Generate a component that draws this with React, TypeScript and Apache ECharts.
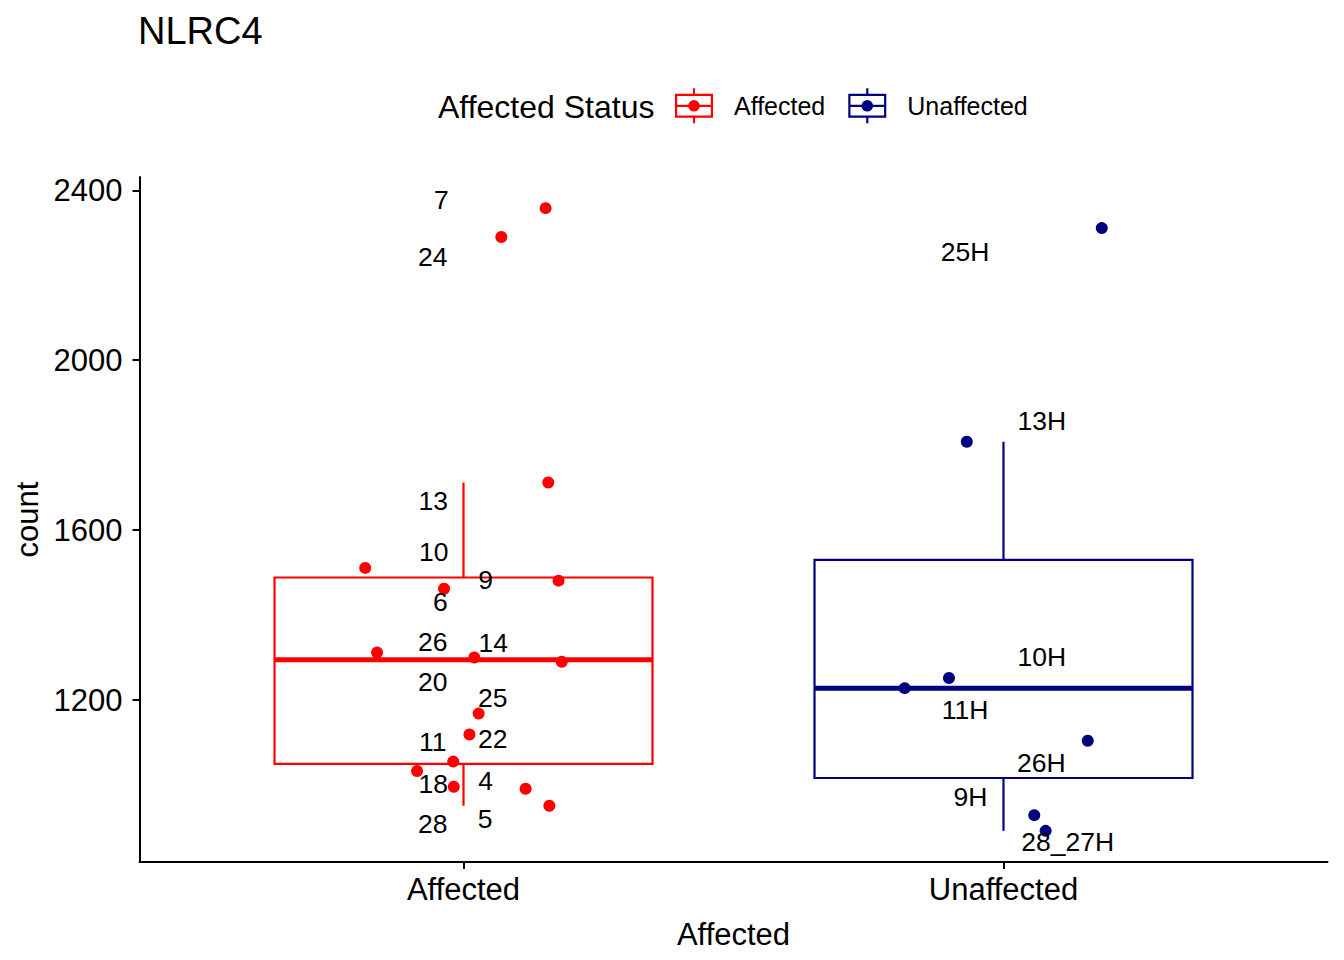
import React, { useEffect, useRef } from "react";
import * as echarts from "echarts";

const TITLE = "NLRC4";
const LEGEND_TITLE = "Affected Status";
const X_NAME = "Affected";
const Y_NAME = "count";
const GROUPS = ["Affected", "Unaffected"];
const COLORS = ["#FF0000", "#000080"];
const Y_TICKS = [1200, 1600, 2000, 2400];

const affectedIds = ["7", "24", "13", "10", "9", "6", "26", "14", "20", "25", "22", "11", "18", "4", "28", "5"];
const affectedCounts = [2358, 2290, 1712, 1511, 1481, 1462, 1312, 1300, 1290, 1168, 1119, 1055, 1033, 996, 991, 951];
const affectedJitter = [0.152, 0.07, 0.157, -0.182, 0.176, -0.036, -0.16, 0.02, 0.182, 0.028, 0.011, -0.019, -0.086, -0.018, 0.115, 0.159];
const affectedLabelDx = [-0.041, -0.057, -0.056, -0.055, 0.041, -0.043, -0.057, 0.055, -0.057, 0.054, 0.054, -0.057, -0.056, 0.041, -0.057, 0.04];
const affectedLabelY = [2377, 2243, 1668, 1549, 1482, 1431, 1336, 1334, 1242, 1204, 1108, 1102, 1003, 1009, 908, 920];

const unaffectedIds = ["25H", "13H", "10H", "11H", "26H", "9H", "28_27H"];
const unaffectedCounts = [2311, 1808, 1252, 1228, 1104, 929, 892];
const unaffectedJitter = [0.182, -0.068, -0.101, -0.183, 0.156, 0.057, 0.078];
const unaffectedLabelDx = [-0.071, 0.071, 0.071, -0.071, 0.07, -0.061, 0.119];
const unaffectedLabelY = [2255, 1856, 1302, 1176, 1051, 971, 865];

const FONT = "'Liberation Sans', Arial, Helvetica, sans-serif";

const LEGEND_ICON =
  "path://M0,5.5H38V7.7H0Z M0,27.3H38V29.5H0Z M0,5.5H2.2V29.5H0Z M35.8,5.5H38V29.5H35.8Z M0,16.4H38V18.6H0Z M17.9,0H20.1V5.5H17.9Z M17.9,29.5H20.1V35H17.9Z M13.2,17.5A5.8,5.8,0,1,1,24.8,17.5A5.8,5.8,0,1,1,13.2,17.5Z";

function quantile7(sorted: number[], p: number): number {
  const h = (sorted.length - 1) * p;
  const lo = Math.floor(h);
  const hi = Math.ceil(h);
  return sorted[lo] + (h - lo) * (sorted[hi] - sorted[lo]);
}

function boxStats(values: number[]) {
  const s = [...values].sort((a, b) => a - b);
  const q1 = quantile7(s, 0.25);
  const med = quantile7(s, 0.5);
  const q3 = quantile7(s, 0.75);
  const iqr = q3 - q1;
  const low = Math.min(...s.filter((v) => v >= q1 - 1.5 * iqr));
  const high = Math.max(...s.filter((v) => v <= q3 + 1.5 * iqr));
  return [low, q1, med, q3, high];
}

export default function App() {
  const ref = useRef<HTMLDivElement>(null);

  useEffect(() => {
    if (!ref.current) return;
    const chart = echarts.init(ref.current, null, { renderer: "svg" });

    const groupsValues = [affectedCounts, unaffectedCounts];
    const allValues = [...affectedCounts, ...unaffectedCounts];
    const vMin = Math.min(...allValues);
    const vMax = Math.max(...allValues);
    const pad = (vMax - vMin) * 0.05;

    const boxData = groupsValues.map((vals, i) => [i + 1, ...boxStats(vals)]);

    const labelData = [
      ...affectedIds.map((id, i) => ({ value: [1 + affectedLabelDx[i], affectedLabelY[i]], name: id })),
      ...unaffectedIds.map((id, i) => ({ value: [2 + unaffectedLabelDx[i], unaffectedLabelY[i]], name: id })),
    ];

    const axisLineStyle = { color: "#000", width: 2 };

    chart.setOption({
      animation: false,
      backgroundColor: "#fff",
      title: {
        text: TITLE,
        left: 138,
        top: 12,
        padding: 0,
        textStyle: { fontSize: 38, fontWeight: "normal", color: "#000", fontFamily: FONT },
      },
      legend: {
        left: 675,
        top: 88.3,
        padding: 0,
        itemWidth: 38,
        itemHeight: 35,
        itemGap: 23,
        selectedMode: false,
        textStyle: { fontSize: 25, color: "#000", fontFamily: FONT, padding: [0, 0, 0, 16] },
        data: GROUPS.map((g) => ({ name: g, icon: LEGEND_ICON })),
      },
      graphic: [
        {
          type: "text",
          x: 438,
          y: 106.7,
          style: {
            text: LEGEND_TITLE,
            fontSize: 32,
            fontFamily: FONT,
            fill: "#000",
            align: "left",
            verticalAlign: "middle",
          },
        },
      ],
      grid: { left: 139.5, right: 16.5, top: 177, bottom: 98 },
      xAxis: {
        type: "value",
        min: 0.4,
        max: 2.6,
        name: X_NAME,
        nameLocation: "middle",
        nameGap: 57,
        nameMoveOverlap: false,
        nameTextStyle: { fontSize: 31, color: "#000", fontFamily: FONT },
        axisLine: { show: true, onZero: false, lineStyle: axisLineStyle },
        axisTick: { show: true, length: 7, lineStyle: axisLineStyle, customValues: [1, 2] },
        axisLabel: {
          show: true,
          margin: 12,
          fontSize: 31,
          color: "#000",
          fontFamily: FONT,
          customValues: [1, 2],
          formatter: (v: number) => GROUPS[Math.round(v) - 1] ?? "",
        },
        splitLine: { show: false },
      },
      yAxis: {
        type: "value",
        min: vMin - pad,
        max: vMax + pad,
        name: Y_NAME,
        nameLocation: "middle",
        nameGap: 97,
        nameMoveOverlap: false,
        nameTextStyle: { fontSize: 31, color: "#000", fontFamily: FONT },
        axisLine: { show: true, onZero: false, lineStyle: axisLineStyle },
        axisTick: { show: true, length: 7, lineStyle: axisLineStyle, customValues: Y_TICKS },
        axisLabel: {
          show: true,
          margin: 17,
          fontSize: 31,
          color: "#000",
          fontFamily: FONT,
          customValues: Y_TICKS,
          formatter: (v: number) => String(Math.round(v)),
        },
        splitLine: { show: false },
      },
      series: [
        {
          type: "custom",
          z: 1,
          silent: true,
          encode: { x: 0, y: [1, 2, 3, 4, 5] },
          data: boxData,
          renderItem: (params: any, api: any) => {
            const i = params.dataIndex;
            const cx = api.value(0);
            const lo = api.coord([cx, api.value(1)]);
            const q1 = api.coord([cx, api.value(2)]);
            const md = api.coord([cx, api.value(3)]);
            const q3 = api.coord([cx, api.value(4)]);
            const hi = api.coord([cx, api.value(5)]);
            const w = api.size([0.7, 0])[0];
            const color = COLORS[i];
            const x = lo[0];
            return {
              type: "group",
              children: [
                { type: "line", shape: { x1: x, y1: q3[1], x2: x, y2: hi[1] }, style: { stroke: color, lineWidth: 2.2 } },
                { type: "line", shape: { x1: x, y1: q1[1], x2: x, y2: lo[1] }, style: { stroke: color, lineWidth: 2.2 } },
                {
                  type: "rect",
                  shape: { x: x - w / 2, y: q3[1], width: w, height: q1[1] - q3[1] },
                  style: { fill: "none", stroke: color, lineWidth: 2.2 },
                },
                {
                  type: "line",
                  shape: { x1: x - w / 2, y1: md[1], x2: x + w / 2, y2: md[1] },
                  style: { stroke: color, lineWidth: 5 },
                },
              ],
            };
          },
        },
        {
          type: "scatter",
          name: GROUPS[0],
          z: 2,
          symbol: "circle",
          symbolSize: 12,
          itemStyle: { color: COLORS[0], opacity: 1 },
          data: affectedCounts.map((v, i) => [1 + affectedJitter[i], v]),
        },
        {
          type: "scatter",
          name: GROUPS[1],
          z: 2,
          symbol: "circle",
          symbolSize: 12,
          itemStyle: { color: COLORS[1], opacity: 1 },
          data: unaffectedCounts.map((v, i) => [2 + unaffectedJitter[i], v]),
        },
        {
          type: "custom",
          z: 3,
          silent: true,
          encode: { x: 0, y: 1 },
          data: labelData,
          renderItem: (params: any, api: any) => {
            const p = api.coord([api.value(0), api.value(1)]);
            return {
              type: "text",
              x: p[0],
              y: p[1],
              style: {
                text: labelData[params.dataIndex].name,
                fontSize: 26.5,
                fontFamily: FONT,
                fill: "#000",
                align: "center",
                verticalAlign: "middle",
              },
            };
          },
        },
      ],
    });

    return () => chart.dispose();
  }, []);

  return (
    <div
      ref={ref}
      style={{ position: "absolute", left: 0, top: 0, width: 1344, height: 960, background: "#fff" }}
    />
  );
}
